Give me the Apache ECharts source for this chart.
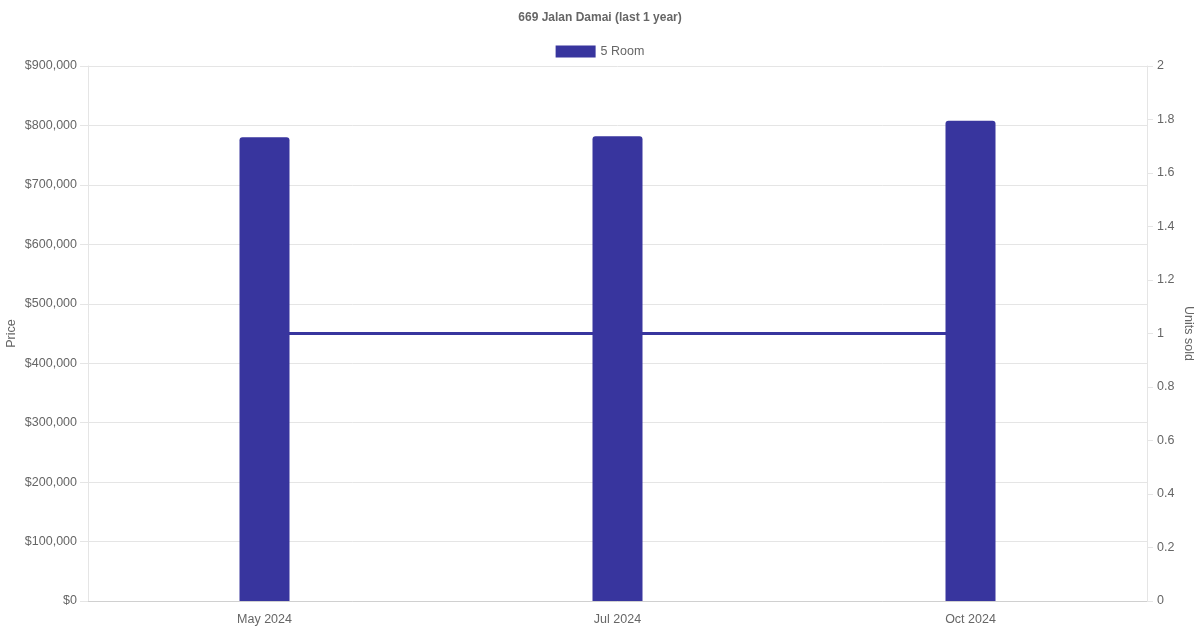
<!DOCTYPE html>
<html>
<head>
<meta charset="utf-8">
<script src="https://cdn.jsdelivr.net/npm/echarts@6/dist/echarts.min.js"></script>
<style>
  html, body { margin: 0; padding: 0; background: #fff; }
  #chart { width: 1200px; height: 630px; }
</style>
</head>
<body>
<div id="chart"></div>
<script>
// data
var months = ['May 2024', 'Jul 2024', 'Oct 2024'];
var prices = [780000, 782000, 808000];
var unitsSold = [1, 1, 1];

var FONT = '"Liberation Sans", Arial, sans-serif';
var BAR = '#38359e';
var GRID = '#e5e5e5';
var FS = 12.5;

var chart = echarts.init(document.getElementById('chart'));

function money(v) {
	return '$' + v.toLocaleString('en-US');
}

chart.setOption({
	animation: false,
	textStyle: { fontFamily: FONT },
	title: {
		text: '669 Jalan Damai (last 1 year)',
		left: 'center',
		top: 7,
		textStyle: { fontSize: 12, fontWeight: 'bold', color: '#666', fontFamily: FONT }
	},
	legend: {
		data: [{ name: '5 Room', icon: 'rect' }],
		top: 40,
		left: 'center',
		itemWidth: 40,
		itemHeight: 12,
		itemGap: 10,
		textStyle: { fontSize: FS, color: '#666', fontFamily: FONT }
	},
	grid: { left: 88, right: 53, top: 66, bottom: 29, containLabel: false, outerBoundsMode: 'none' },
	xAxis: {
		type: 'category',
		data: months,
		axisLine: { lineStyle: { color: '#d0d0d0' } },
		axisTick: { show: false },
		axisLabel: { color: '#666', fontSize: FS, margin: 12 },
		splitLine: { show: false }
	},
	yAxis: [{
		type: 'value',
		name: 'Price',
		nameLocation: 'middle',
		nameGap: 70,
		nameMoveOverlap: false,
		nameTextStyle: { color: '#666', fontSize: FS },
		min: 0,
		max: 900000,
		interval: 100000,
		axisLine: { show: true, lineStyle: { color: GRID } },
		axisTick: { show: true, length: 8, lineStyle: { color: GRID } },
		axisLabel: { color: '#666', fontSize: FS, margin: 11, formatter: money, padding: [2, 0, 0, 0] },
		splitLine: { lineStyle: { color: GRID } }
	}, {
		type: 'value',
		name: 'Units sold',
		nameLocation: 'middle',
		nameGap: 35,
		nameMoveOverlap: false,
		nameRotate: -90,
		nameTextStyle: { color: '#666', fontSize: FS },
		min: 0,
		max: 2,
		interval: 0.2,
		position: 'right',
		axisLine: { show: true, lineStyle: { color: GRID } },
		axisTick: { show: true, length: 6, lineStyle: { color: GRID } },
		axisLabel: {
			color: '#666', fontSize: FS, margin: 10, padding: [2, 0, 0, 0],
			formatter: function(v) { return String(Math.round(v * 10) / 10); }
		},
		splitLine: { show: false }
	}],
	series: [{
		name: '5 Room',
		type: 'bar',
		data: prices,
		yAxisIndex: 0,
		barWidth: 50,
		z: 3,
		itemStyle: { color: BAR, borderRadius: [3, 3, 0, 0] }
	}, {
		name: 'Units',
		type: 'line',
		data: unitsSold,
		yAxisIndex: 1,
		z: 1,
		symbol: 'none',
		lineStyle: { color: BAR, width: 3 },
		itemStyle: { color: BAR }
	}]
});
</script>
</body>
</html>
